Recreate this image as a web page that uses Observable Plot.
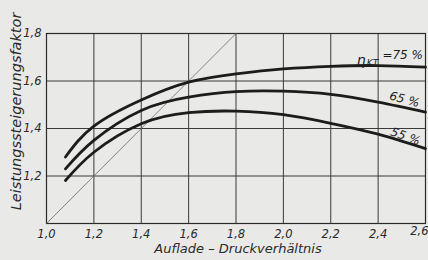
<!DOCTYPE html>
<html>
<head>
<meta charset="utf-8">
<script src="https://cdn.jsdelivr.net/npm/d3@7"></script>
<script src="https://cdn.jsdelivr.net/npm/@observablehq/plot@0.6"></script>
<style>
  html, body { margin: 0; padding: 0; background: #e9e9e7; }
  #chart svg { display: block; }
</style>
</head>
<body>
<div id="chart"></div>
<script>
// Data
const xTicks = [1.0, 1.2, 1.4, 1.6, 1.8, 2.0, 2.2, 2.4, 2.6];
const yTicks = [1.2, 1.4, 1.6, 1.8];
const xLabel = "Auflade – Druckverhältnis";
const yLabel = "Leistungssteigerungsfaktor";

const ratio = [1.08, 1.2, 1.4, 1.6, 1.8, 2.0, 2.2, 2.4, 2.6];
const eta75 = [1.28, 1.41, 1.52, 1.595, 1.63, 1.651, 1.662, 1.665, 1.658];
const eta65 = [1.23, 1.35, 1.476, 1.532, 1.555, 1.557, 1.544, 1.511, 1.469];
const eta55 = [1.181, 1.30, 1.42, 1.467, 1.473, 1.458, 1.422, 1.376, 1.315];
const diagonal = [1.0, 1.8];

const seriesNames = ["75 %", "65 %", "55 %"];
const seriesValues = [eta75, eta65, eta55];

const rows = [];
seriesNames.forEach((s, i) => ratio.forEach((x, j) => rows.push({series: s, x, y: seriesValues[i][j]})));
const diag = diagonal.map(v => ({x: v, y: v}));

const fmt = d => d.toFixed(1).replace(".", ",");
const font = "'DejaVu Sans', sans-serif";
const ink = "#2a2a2a";

const chart = Plot.plot({
  width: 428,
  height: 260,
  marginLeft: 46,
  marginRight: 3,
  marginTop: 33,
  marginBottom: 37,
  x: {domain: [1.0, 2.6]},
  y: {domain: [1.0, 1.8]},
  style: {background: "#e9e9e7", fontFamily: font, fontStyle: "italic", color: ink},
  marks: [
    Plot.ruleX(xTicks, {x: d => d, stroke: "#3a3a3a", strokeWidth: 1}),
    Plot.ruleY(yTicks, {y: d => d, stroke: "#3a3a3a", strokeWidth: 1}),
    Plot.frame({stroke: ink, strokeWidth: 1.2}),
    Plot.line(diag, {x: "x", y: "y", stroke: "#6a6a6a", strokeWidth: 0.8}),
    Plot.line(rows, {x: "x", y: "y", z: "series", stroke: "#1c1c1c", strokeWidth: 2.8, curve: "natural"}),
    Plot.axisX(xTicks.slice(0, -1), {tickSize: 0, tickPadding: 6, tickFormat: fmt, fontSize: 11.5, fill: ink, label: null}),
    Plot.text(xTicks.slice(-1), {x: d => d, text: fmt, frameAnchor: "bottom", textAnchor: "end", dy: 11, dx: 3, fontSize: 11.5, fill: ink}),
    Plot.axisY(yTicks, {tickSize: 0, tickPadding: 5, tickFormat: fmt, fontSize: 11.5, fill: ink, label: null}),
    Plot.text([xLabel], {text: d => d, frameAnchor: "bottom", textAnchor: "middle", dy: 29, dx: 2, fontSize: 13, fill: ink}),
    Plot.text([yLabel], {text: d => d, frameAnchor: "left", textAnchor: "middle", dx: -30, dy: -17, rotate: -90, fontSize: 14.5, fill: ink}),
    Plot.text(["η"], {text: d => d, x: 2.31, y: 1.686, textAnchor: "start", fontSize: 14, fill: "#1c1c1c"}),
    Plot.text(["KT"], {text: d => d, x: 2.352, y: 1.674, textAnchor: "start", fontSize: 9, fill: "#1c1c1c"}),
    Plot.text(["=" + seriesNames[0]], {text: d => d, x: 2.418, y: 1.707, textAnchor: "start", fontSize: 12, fill: "#1c1c1c"}),
    Plot.text([seriesNames[1]], {text: d => d, x: 2.511, y: 1.522, rotate: 15, fontSize: 12, fill: "#1c1c1c"}),
    Plot.text([seriesNames[2]], {text: d => d, x: 2.515, y: 1.366, rotate: 20, fontSize: 12, fill: "#1c1c1c"})
  ]
});
document.getElementById("chart").append(chart);
</script>
</body>
</html>
